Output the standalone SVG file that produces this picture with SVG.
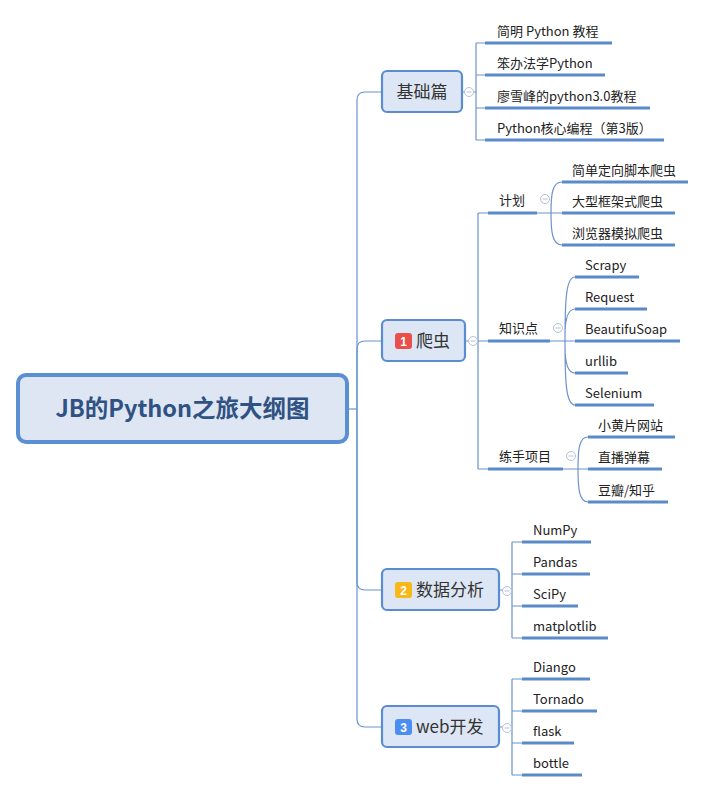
<svg xmlns="http://www.w3.org/2000/svg" width="706" height="792" viewBox="0 0 706 792">
<style>
.bg{fill:#ffffff}
.ln{fill:none;stroke:#6b93cc;stroke-width:1.2}
.ul{fill:none;stroke:#5b8ac9;stroke-width:3}
.box{fill:#dce6f4;stroke:#5b8bd0;stroke-width:2.2}
.root{fill:#dde6f2;stroke:#5b8fd4;stroke-width:4}
.t{font-family:"Noto Sans CJK SC","Liberation Sans",sans-serif;font-size:13px;fill:#222}
.bt{font-family:"Noto Sans CJK SC","Liberation Sans",sans-serif;font-size:17px;fill:#333}
.rt{font-family:"Noto Sans CJK SC","Liberation Sans",sans-serif;font-size:23.5px;font-weight:bold;fill:#2f5283}
.bd{font-family:"Liberation Sans",Arial,sans-serif;font-size:12px;font-weight:bold;fill:#fff}
.cc{fill:#fff;stroke:#b6bfd6;stroke-width:1}
.cm{stroke:#b6bfd6;stroke-width:1}
</style>
<defs>
<g id="col"><circle class="cc" cx="0" cy="0" r="4.5"/><line class="cm" x1="-2.5" y1="0" x2="2.5" y2="0"/></g>
</defs>
<rect class="bg" width="706" height="792"/>
<g id="connectors">
  <path class="ln" d="M347,409 H357"/>
  <path class="ln" d="M357,409 V100 Q357,92 365,92 H382"/>
  <path class="ln" d="M357,409 V349 Q357,341 365,341 H382"/>
  <path class="ln" d="M357,409 V582 Q357,590 365,590 H382"/>
  <path class="ln" d="M357,409 V719 Q357,727 365,727 H382"/>
  <path class="ln" d="M462,92 H476 M476,43 V140 M476,43 H485 M476,75 H485 M476,108 H485 M476,140 H485"/>
  <path class="ln" d="M465,341 H488 M478,213 V469 M478,213 H488 M478,469 H488"/>
  <path class="ln" d="M537,213 H562 M562,182 C552,182 551,195 551,213 C551,231 552,245 562,245"/>
  <path class="ln" d="M550,341 H575 M575,277 C566,277 565,300 565,341 C565,382 566,405 575,405 M575,309 C567,309 565,320 565,335 M575,373 C567,373 565,362 565,347"/>
  <path class="ln" d="M563,469 H588 M588,437 C579,437 578,450 578,469 C578,488 579,502 588,502"/>
  <path class="ln" d="M499,590 H512 M512,542 V638 M512,542 H522 M512,574 H522 M512,606 H522 M512,638 H522"/>
  <path class="ln" d="M499,727 H512 M512,679 V775 M512,679 H522 M512,711 H522 M512,743 H522 M512,775 H522"/>
</g>
<g id="root">
  <rect class="root" x="18" y="375" width="329" height="67" rx="8"/>
  <text class="rt" x="182.5" y="417" text-anchor="middle">JB的Python之旅大纲图</text>
</g>
<g id="jichu">
  <rect class="box" x="382" y="71" width="80" height="41" rx="5"/>
  <text class="bt" x="422" y="98" text-anchor="middle">基础篇</text>
  <use href="#col" x="469" y="92"/>
</g>
<g id="jichu-children">
  <path class="ul" d="M485,43 H612 M485,75 H605 M485,108 H650 M485,140 H664"/>
  <text class="t" x="497" y="36">简明 Python 教程</text>
  <text class="t" x="497" y="68">笨办法学Python</text>
  <text class="t" x="497" y="101">廖雪峰的python3.0教程</text>
  <text class="t" x="497" y="133">Python核心编程（第3版）</text>
</g>
<g id="pachong">
  <rect class="box" x="382" y="320" width="83" height="41" rx="5"/>
  <rect x="395" y="333" width="17" height="16" rx="3" fill="#e9504c"/>
  <text class="bd" x="403.5" y="345.5" text-anchor="middle">1</text>
  <text class="bt" x="416" y="347">爬虫</text>
  <use href="#col" x="473" y="341"/>
</g>
<g id="jihua">
  <path class="ul" d="M488,213 H537"/>
  <text class="t" x="499" y="205">计划</text>
  <use href="#col" x="545" y="199"/>
  <path class="ul" d="M562,182 H688 M562,213 H675 M562,245 H675"/>
  <text class="t" x="572" y="175">简单定向脚本爬虫</text>
  <text class="t" x="572" y="206">大型框架式爬虫</text>
  <text class="t" x="572" y="238">浏览器模拟爬虫</text>
</g>
<g id="zhishidian">
  <path class="ul" d="M488,341 H550"/>
  <text class="t" x="499" y="333">知识点</text>
  <use href="#col" x="558" y="328"/>
  <path class="ul" d="M575,277 H639 M575,309 H647 M575,341 H680 M575,373 H628 M575,405 H654"/>
  <text class="t" x="585" y="270">Scrapy</text>
  <text class="t" x="585" y="302">Request</text>
  <text class="t" x="585" y="334">BeautifuSoap</text>
  <text class="t" x="585" y="366">urllib</text>
  <text class="t" x="585" y="398">Selenium</text>
</g>
<g id="lianshou">
  <path class="ul" d="M488,469 H563"/>
  <text class="t" x="499" y="461">练手项目</text>
  <use href="#col" x="571" y="456"/>
  <path class="ul" d="M588,437 H675 M588,469 H662 M588,502 H668"/>
  <text class="t" x="598" y="430">小黄片网站</text>
  <text class="t" x="598" y="462">直播弹幕</text>
  <text class="t" x="598" y="495">豆瓣/知乎</text>
</g>
<g id="shuju">
  <rect class="box" x="382" y="569" width="117" height="41" rx="5"/>
  <rect x="395" y="582" width="17" height="16" rx="3" fill="#f8b818"/>
  <text class="bd" x="403.5" y="594.5" text-anchor="middle">2</text>
  <text class="bt" x="416" y="596">数据分析</text>
  <use href="#col" x="507" y="591"/>
  <path class="ul" d="M522,542 H591 M522,574 H590 M522,606 H578 M522,638 H608"/>
  <text class="t" x="533" y="535">NumPy</text>
  <text class="t" x="533" y="567">Pandas</text>
  <text class="t" x="533" y="599">SciPy</text>
  <text class="t" x="533" y="631">matplotlib</text>
</g>
<g id="web">
  <rect class="box" x="382" y="706" width="117" height="41" rx="5"/>
  <rect x="395" y="719" width="17" height="16" rx="3" fill="#4b8ef2"/>
  <text class="bd" x="403.5" y="731.5" text-anchor="middle">3</text>
  <text class="bt" x="416" y="733">web开发</text>
  <use href="#col" x="507" y="728"/>
  <path class="ul" d="M522,679 H590 M522,711 H597 M522,743 H574 M522,775 H582"/>
  <text class="t" x="533" y="672">Diango</text>
  <text class="t" x="533" y="704">Tornado</text>
  <text class="t" x="533" y="736">flask</text>
  <text class="t" x="533" y="768">bottle</text>
</g>
</svg>
